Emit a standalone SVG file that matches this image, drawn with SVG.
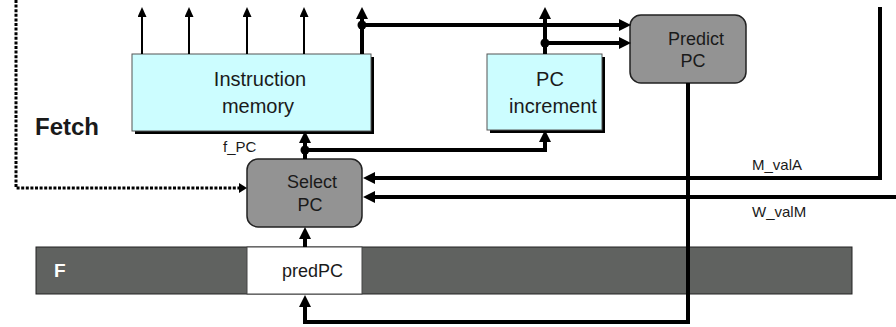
<svg xmlns="http://www.w3.org/2000/svg" width="896" height="327" viewBox="0 0 896 327">
<style>
.t{font-family:"Liberation Sans",Arial,sans-serif;fill:#1a1a1a}
.hw{fill:#ccfdff;stroke:#555;stroke-width:1}
.sh{fill:#000}
.ctl{fill:#939393;stroke:#222;stroke-width:1.5}
.thin{fill:none;stroke:#000;stroke-width:2}
.thick{fill:none;stroke:#000;stroke-width:4}
.dot{fill:#000}
</style>
<defs>
<marker id="ah" markerUnits="userSpaceOnUse" markerWidth="11" markerHeight="10" refX="1" refY="4.5" orient="auto"><path d="M0,0 L10,4.5 L0,9 z" fill="#000"/></marker>
<marker id="aH" markerUnits="userSpaceOnUse" markerWidth="13" markerHeight="13" refX="1" refY="6" orient="auto"><path d="M0,0 L12,6 L0,12 z" fill="#000"/></marker>
<marker id="ad" markerUnits="userSpaceOnUse" markerWidth="9" markerHeight="11" refX="1" refY="5" orient="auto"><path d="M0,0 L8,5 L0,10 z" fill="#000"/></marker>
</defs>

<g id="F-register">
<rect x="36" y="247" width="816" height="47" fill="#606260" stroke="#222" stroke-width="1"/>
<rect x="247" y="247" width="115" height="47" fill="#fff" stroke="#444" stroke-width="1"/>
<text class="t" x="54" y="277" font-size="19" font-weight="bold" style="fill:#fff">F</text>
<text class="t" x="282" y="277" font-size="18">predPC</text>
</g>

<g id="fetch-label"><text class="t" x="35" y="135" font-size="24" font-weight="bold">Fetch</text></g>

<g id="instruction-memory">
<rect class="sh" x="135" y="57" width="239" height="77"/>
<rect class="hw" x="132" y="54" width="239" height="77"/>
<text class="t" x="260" y="86" font-size="20" text-anchor="middle">Instruction</text>
<text class="t" x="258" y="113" font-size="20" text-anchor="middle">memory</text>
</g>

<g id="pc-increment">
<rect class="sh" x="490" y="57" width="115" height="76"/>
<rect class="hw" x="487" y="54" width="115" height="76"/>
<text class="t" x="550" y="86" font-size="20" text-anchor="middle">PC</text>
<text class="t" x="553" y="113" font-size="20" text-anchor="middle">increment</text>
</g>

<g id="predict-pc">
<rect class="ctl" x="630" y="15" width="116" height="68" rx="11"/>
<text class="t" x="696" y="45" font-size="18" text-anchor="middle">Predict</text>
<text class="t" x="693" y="67" font-size="18" text-anchor="middle">PC</text>
</g>

<g id="select-pc">
<rect class="ctl" x="247" y="159" width="115" height="68" rx="11"/>
<text class="t" x="312" y="188" font-size="18" text-anchor="middle">Select</text>
<text class="t" x="310" y="211" font-size="18" text-anchor="middle">PC</text>
</g>

<g id="labels">
<text class="t" x="223" y="152" font-size="15">f_PC</text>
<text class="t" x="752" y="170" font-size="15">M_valA</text>
<text class="t" x="752" y="217" font-size="15">W_valM</text>
</g>

<g id="connectors">
<path class="thin" d="M142 54 V16" marker-end="url(#ah)"/>
<path class="thin" d="M189 54 V16" marker-end="url(#ah)"/>
<path class="thin" d="M247 54 V16" marker-end="url(#ah)"/>
<path class="thin" d="M304 54 V16" marker-end="url(#ah)"/>
<path class="thick" d="M362 54 V18" marker-end="url(#aH)"/>
<path class="thick" d="M362 25 H620" marker-end="url(#aH)"/>
<circle class="dot" cx="362" cy="25" r="4.5"/>
<path class="thick" d="M545 54 V18" marker-end="url(#aH)"/>
<path class="thick" d="M545 43 H620" marker-end="url(#aH)"/>
<circle class="dot" cx="545" cy="43" r="4.5"/>
<path class="thick" d="M305 159 V142" marker-end="url(#aH)"/>
<path class="thick" d="M305 150 H545 V141" marker-end="url(#aH)"/>
<circle class="dot" cx="305" cy="150" r="4.5"/>
<path class="thick" d="M688 83 V322 H305 V306" marker-end="url(#aH)"/>
<path class="thick" d="M305 247 V238" marker-end="url(#aH)"/>
<path class="thick" d="M880 7 V178 H374" marker-end="url(#aH)"/>
<path class="thick" d="M896 197 H374" marker-end="url(#aH)"/>
<path fill="none" stroke="#000" stroke-width="3" stroke-dasharray="3 1.6" d="M16 0 V188 H240" marker-end="url(#ad)"/>
</g>
</svg>
